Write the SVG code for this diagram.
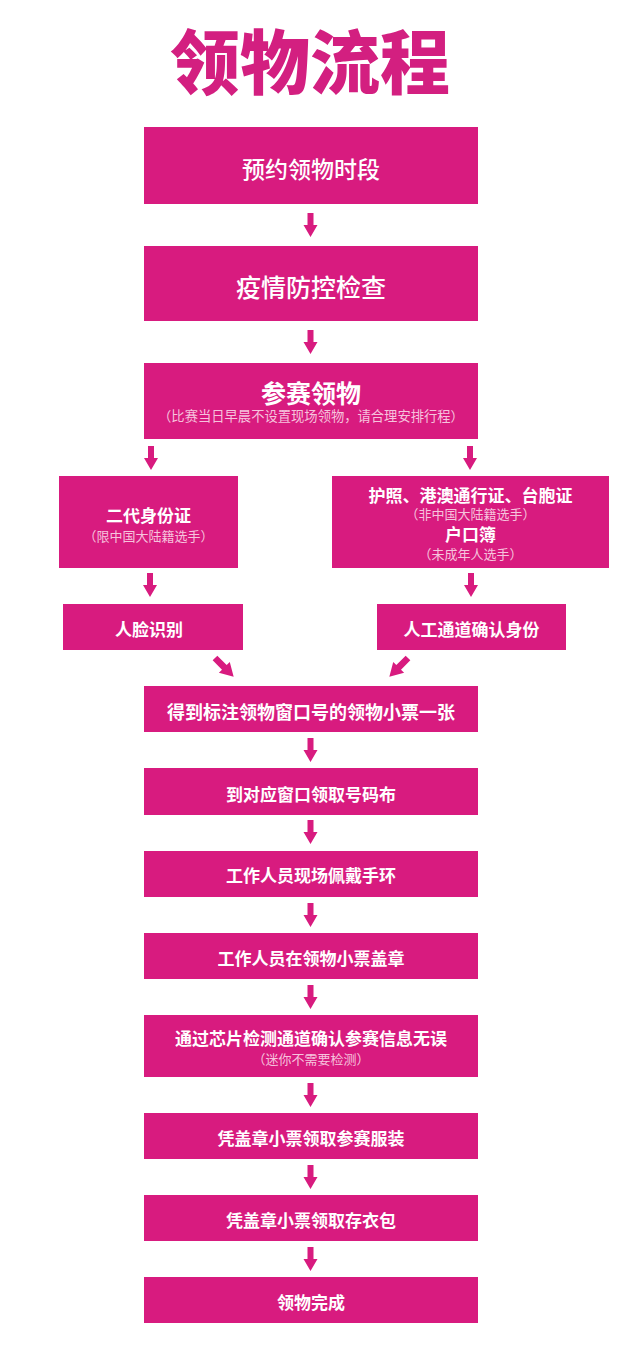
<svg xmlns="http://www.w3.org/2000/svg" xmlns:xlink="http://www.w3.org/1999/xlink" width="626" height="1371" viewBox="0 0 626 1371">
<style>
text{font-family:"Noto Sans CJK SC","Noto Sans",sans-serif;text-anchor:middle;dominant-baseline:central}
.box{fill:#d81b7f}
.t{fill:#ffffff;font-weight:700;font-size:17px}
.s{fill:#f6c3dd;font-weight:400;font-size:13px}
.arr{fill:#d81b7f}
</style>
<defs>
<path id="arrow" d="M-3,0 H3 V12 H7 L0,24 L-7,12 H-3 Z"/>
</defs>
<rect width="626" height="1371" fill="#ffffff"/>
<text id="title" x="310" y="58" style="fill:#d31f80;font-size:70px;font-weight:900">领物流程</text>

<g id="n1"><rect class="box" x="144" y="127" width="334" height="77"/><text class="t" x="311" y="168" style="font-size:23px;font-weight:500">预约领物时段</text></g>
<g id="n2"><rect class="box" x="144" y="246" width="334" height="75"/><text class="t" x="311" y="286" style="font-size:25px;font-weight:500">疫情防控检查</text></g>
<g id="n3"><rect class="box" x="144" y="363" width="334" height="76"/><text class="t" x="311" y="392" style="font-size:25px">参赛领物</text><text class="s" x="311" y="415" style="font-size:13.3px">（比赛当日早晨不设置现场领物，请合理安排行程）</text></g>
<g id="n4"><rect class="box" x="59" y="476" width="179" height="92"/><text class="t" x="148.5" y="514">二代身份证</text><text class="s" x="148.5" y="535">（限中国大陆籍选手）</text></g>
<g id="n5"><rect class="box" x="332" y="476" width="277" height="92"/><text class="t" x="470.5" y="494">护照、港澳通行证、台胞证</text><text class="s" x="470.5" y="513">（非中国大陆籍选手）</text><text class="t" x="470.5" y="533">户口簿</text><text class="s" x="470.5" y="553">（未成年人选手）</text></g>
<g id="n6"><rect class="box" x="63" y="604" width="180" height="46"/><text class="t" x="149" y="628">人脸识别</text></g>
<g id="n7"><rect class="box" x="377" y="604" width="189" height="46"/><text class="t" x="471.5" y="628">人工通道确认身份</text></g>
<g id="n8"><rect class="box" x="144" y="686" width="334" height="46"/><text class="t" x="311" y="711" style="font-size:18px">得到标注领物窗口号的领物小票一张</text></g>
<g id="n9"><rect class="box" x="144" y="768" width="334" height="47"/><text class="t" x="311" y="793">到对应窗口领取号码布</text></g>
<g id="n10"><rect class="box" x="144" y="851" width="334" height="46"/><text class="t" x="311" y="874">工作人员现场佩戴手环</text></g>
<g id="n11"><rect class="box" x="144" y="933" width="334" height="46"/><text class="t" x="311" y="957">工作人员在领物小票盖章</text></g>
<g id="n12"><rect class="box" x="144" y="1015" width="334" height="62"/><text class="t" x="311" y="1037">通过芯片检测通道确认参赛信息无误</text><text class="s" x="311" y="1058">（迷你不需要检测）</text></g>
<g id="n13"><rect class="box" x="144" y="1113" width="334" height="46"/><text class="t" x="311" y="1137">凭盖章小票领取参赛服装</text></g>
<g id="n14"><rect class="box" x="144" y="1195" width="334" height="46"/><text class="t" x="311" y="1219">凭盖章小票领取存衣包</text></g>
<g id="n15"><rect class="box" x="144" y="1277" width="334" height="46"/><text class="t" x="311" y="1301">领物完成</text></g>

<g id="connectors" class="arr">
<use xlink:href="#arrow" transform="translate(310.5,213)"/>
<use xlink:href="#arrow" transform="translate(310.5,330)"/>
<use xlink:href="#arrow" transform="translate(151,446)"/>
<use xlink:href="#arrow" transform="translate(470,446)"/>
<use xlink:href="#arrow" transform="translate(150,573)"/>
<use xlink:href="#arrow" transform="translate(471,573)"/>
<use xlink:href="#arrow" transform="translate(215,658) rotate(-45) scale(1.1)"/>
<use xlink:href="#arrow" transform="translate(408,658) rotate(45) scale(1.1)"/>
<use xlink:href="#arrow" transform="translate(310.5,738)"/>
<use xlink:href="#arrow" transform="translate(310.5,820)"/>
<use xlink:href="#arrow" transform="translate(310.5,903)"/>
<use xlink:href="#arrow" transform="translate(310.5,985)"/>
<use xlink:href="#arrow" transform="translate(310.5,1083)"/>
<use xlink:href="#arrow" transform="translate(310.5,1165)"/>
<use xlink:href="#arrow" transform="translate(310.5,1247)"/>
</g>
</svg>
